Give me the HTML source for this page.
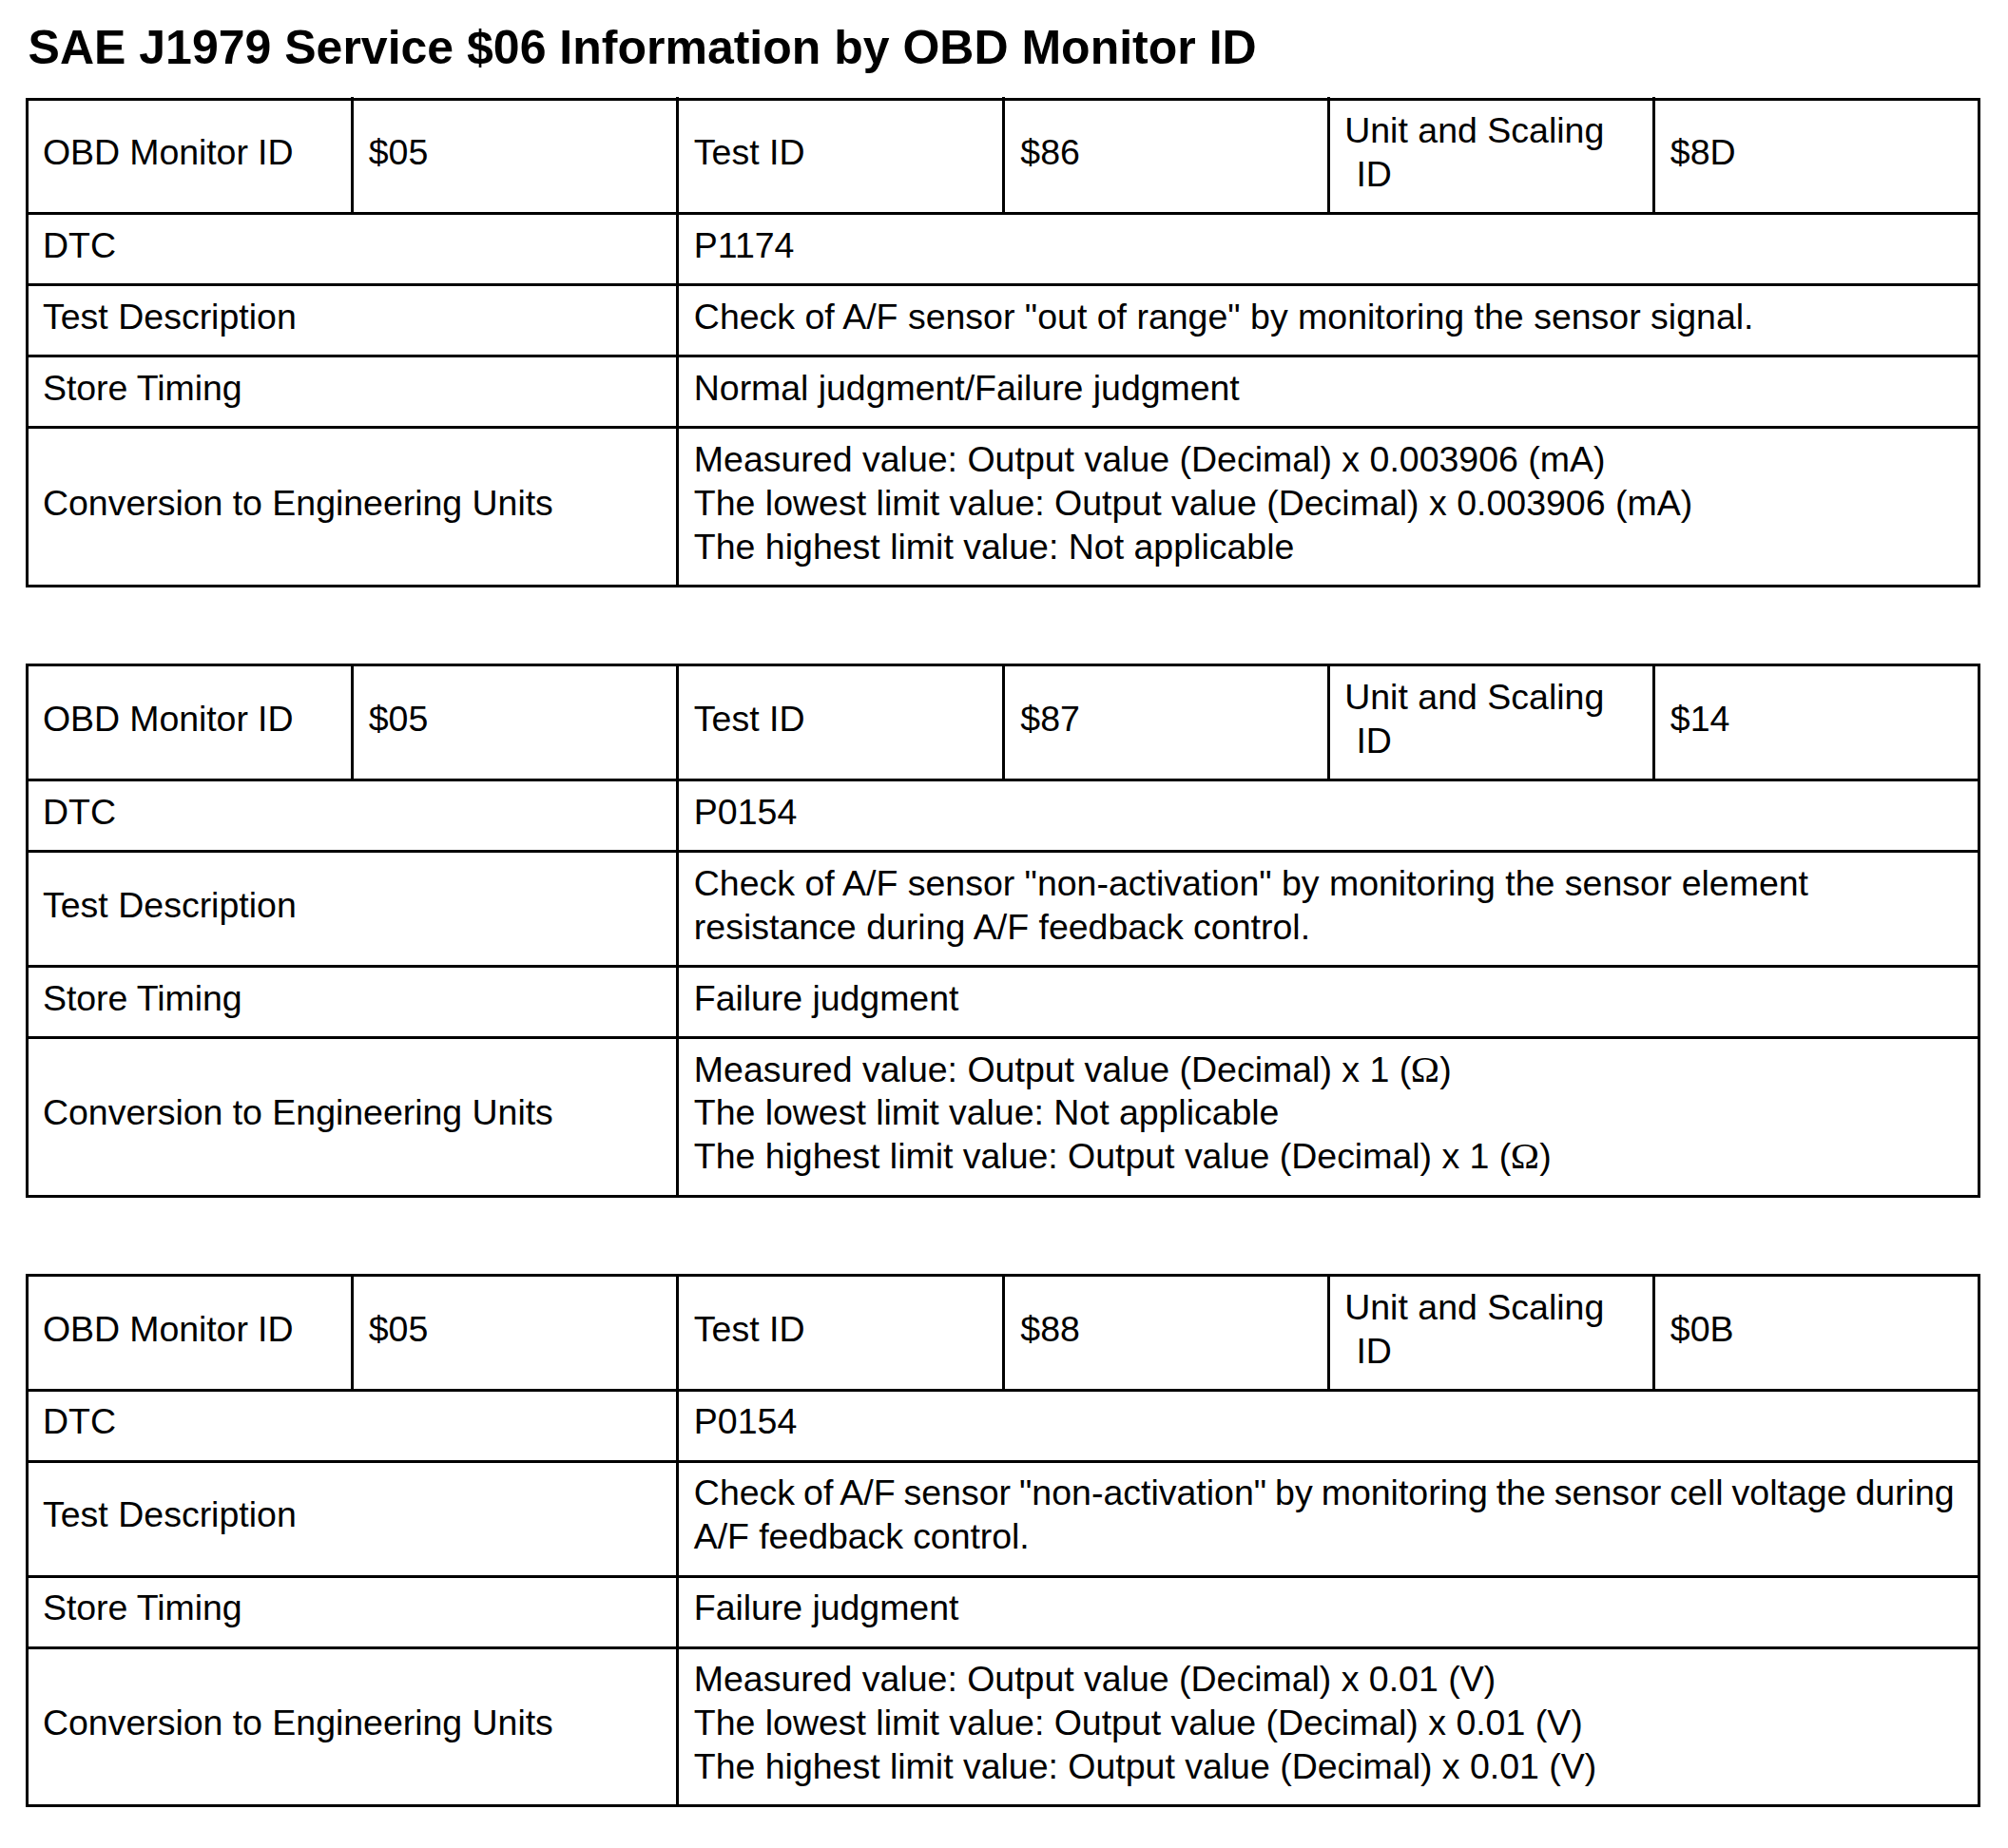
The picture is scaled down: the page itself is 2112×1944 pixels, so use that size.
<!DOCTYPE html>
<html lang="en">
<head>
<meta charset="utf-8">
<title>SAE J1979 Service $06 Information by OBD Monitor ID</title>
<style>
html,body{margin:0;padding:0;background:#fff;}
body{width:2112px;height:1944px;position:relative;overflow:hidden;font-family:"Liberation Sans",Arial,Helvetica,sans-serif;color:#000;}
h1{position:absolute;margin:0;font-weight:bold;white-space:nowrap;line-height:60px;font-size:50px;}
table{position:absolute;left:27px;width:2056px;table-layout:fixed;border-collapse:separate;border-spacing:0;border:0 solid #000;border-width:3px 0 0 3px;font-size:37.5px;line-height:46px;}
td{position:relative;padding:0;border:0 solid #000;border-width:0 3px 3px 0;box-sizing:border-box;vertical-align:top;overflow:visible;}
td span{position:absolute;display:block;height:46px;white-space:pre;}
.om{font-style:normal;font-family:"Liberation Serif","DejaVu Serif",serif;display:inline-block;line-height:0;transform:scaleX(1.085);margin:0 1.1px;}
.tick td::before{content:"";position:absolute;right:-3px;top:-4px;width:3px;height:1px;background:#000;}
.tick td:last-child::before{display:none;}
</style>
</head>
<body>
<h1 style="left:29.6px;top:20px">SAE J1979 Service $06 Information by OBD Monitor ID</h1>
<table style="top:103px">
<colgroup><col style="width:342px"><col style="width:342px"><col style="width:343px"><col style="width:342px"><col style="width:342px"><col style="width:342px"></colgroup>
<tbody>
<tr class="tick">
<td style="height:120px"><span style="left:15px;top:31px;letter-spacing:-0.085px">OBD Monitor ID</span></td>
<td style="height:120px"><span style="left:15.7px;top:31px">$05</span></td>
<td style="height:120px"><span style="left:15.8px;top:31px">Test ID</span></td>
<td style="height:120px"><span style="left:16.3px;top:31px">$86</span></td>
<td style="height:120px"><span style="left:15.2px;top:8px">Unit and Scaling</span><span style="left:17px;top:54px"> ID</span></td>
<td style="height:120px"><span style="left:15.8px;top:31px">$8D</span></td>
</tr>
<tr>
<td colspan="2" style="height:75px"><span style="left:15px;top:9px">DTC</span></td>
<td colspan="4" style="height:75px"><span style="left:15.8px;top:9px">P1174</span></td>
</tr>
<tr>
<td colspan="2" style="height:75px"><span style="left:15px;top:9px">Test Description</span></td>
<td colspan="4" style="height:75px"><span style="left:15.8px;top:9px">Check of A/F sensor &quot;out of range&quot; by monitoring the sensor signal.</span></td>
</tr>
<tr>
<td colspan="2" style="height:75px"><span style="left:15px;top:9px;letter-spacing:-0.09px">Store Timing</span></td>
<td colspan="4" style="height:75px"><span style="left:15.8px;top:9px;letter-spacing:-0.042px">Normal judgment/Failure judgment</span></td>
</tr>
<tr>
<td colspan="2" style="height:167px"><span style="left:15px;top:55px;letter-spacing:-0.033px">Conversion to Engineering Units</span></td>
<td colspan="4" style="height:167px"><span style="left:15.8px;top:9px">Measured value: Output value (Decimal) x 0.003906 (mA)</span><span style="left:15.8px;top:55px">The lowest limit value: Output value (Decimal) x 0.003906 (mA)</span><span style="left:15.8px;top:101px">The highest limit value: Not applicable</span></td>
</tr>
</tbody>
</table>
<table style="top:698px">
<colgroup><col style="width:342px"><col style="width:342px"><col style="width:343px"><col style="width:342px"><col style="width:342px"><col style="width:342px"></colgroup>
<tbody>
<tr>
<td style="height:121px"><span style="left:15px;top:32px;letter-spacing:-0.085px">OBD Monitor ID</span></td>
<td style="height:121px"><span style="left:15.7px;top:32px">$05</span></td>
<td style="height:121px"><span style="left:15.8px;top:32px">Test ID</span></td>
<td style="height:121px"><span style="left:16.3px;top:32px">$87</span></td>
<td style="height:121px"><span style="left:15.2px;top:9px">Unit and Scaling</span><span style="left:17px;top:55px"> ID</span></td>
<td style="height:121px"><span style="left:15.8px;top:32px">$14</span></td>
</tr>
<tr>
<td colspan="2" style="height:75px"><span style="left:15px;top:9px">DTC</span></td>
<td colspan="4" style="height:75px"><span style="left:15.8px;top:9px">P0154</span></td>
</tr>
<tr>
<td colspan="2" style="height:121px"><span style="left:15px;top:32px">Test Description</span></td>
<td colspan="4" style="height:121px"><span style="left:15.8px;top:9px;letter-spacing:-0.012px">Check of A/F sensor &quot;non-activation&quot; by monitoring the sensor element</span><span style="left:15.8px;top:55px">resistance during A/F feedback control.</span></td>
</tr>
<tr>
<td colspan="2" style="height:75px"><span style="left:15px;top:9px;letter-spacing:-0.09px">Store Timing</span></td>
<td colspan="4" style="height:75px"><span style="left:15.8px;top:9px;letter-spacing:-0.047px">Failure judgment</span></td>
</tr>
<tr>
<td colspan="2" style="height:167px"><span style="left:15px;top:54px;letter-spacing:-0.033px">Conversion to Engineering Units</span></td>
<td colspan="4" style="height:167px"><span style="left:15.8px;top:9px">Measured value: Output value (Decimal) x 1 (<i class="om">Ω</i>)</span><span style="left:15.8px;top:54px;letter-spacing:-0.035px">The lowest limit value: Not applicable</span><span style="left:15.8px;top:100px;letter-spacing:-0.026px">The highest limit value: Output value (Decimal) x 1 (<i class="om">Ω</i>)</span></td>
</tr>
</tbody>
</table>
<table style="top:1340px">
<colgroup><col style="width:342px"><col style="width:342px"><col style="width:343px"><col style="width:342px"><col style="width:342px"><col style="width:342px"></colgroup>
<tbody>
<tr>
<td style="height:121px"><span style="left:15px;top:32px;letter-spacing:-0.085px">OBD Monitor ID</span></td>
<td style="height:121px"><span style="left:15.7px;top:32px">$05</span></td>
<td style="height:121px"><span style="left:15.8px;top:32px">Test ID</span></td>
<td style="height:121px"><span style="left:16.3px;top:32px">$88</span></td>
<td style="height:121px"><span style="left:15.2px;top:9px">Unit and Scaling</span><span style="left:17px;top:55px"> ID</span></td>
<td style="height:121px"><span style="left:15.8px;top:32px">$0B</span></td>
</tr>
<tr>
<td colspan="2" style="height:75px"><span style="left:15px;top:8px">DTC</span></td>
<td colspan="4" style="height:75px"><span style="left:15.8px;top:8px">P0154</span></td>
</tr>
<tr>
<td colspan="2" style="height:121px"><span style="left:15px;top:31px">Test Description</span></td>
<td colspan="4" style="height:121px"><span style="left:15.8px;top:8px;word-spacing:-1.46px">Check of A/F sensor &quot;non-activation&quot; by monitoring the sensor cell voltage during</span><span style="left:15.8px;top:54px;letter-spacing:-0.075px">A/F feedback control.</span></td>
</tr>
<tr>
<td colspan="2" style="height:75px"><span style="left:15px;top:8px;letter-spacing:-0.09px">Store Timing</span></td>
<td colspan="4" style="height:75px"><span style="left:15.8px;top:8px;letter-spacing:-0.047px">Failure judgment</span></td>
</tr>
<tr>
<td colspan="2" style="height:166px"><span style="left:15px;top:54px;letter-spacing:-0.033px">Conversion to Engineering Units</span></td>
<td colspan="4" style="height:166px"><span style="left:15.8px;top:8px;letter-spacing:-0.016px">Measured value: Output value (Decimal) x 0.01 (V)</span><span style="left:15.8px;top:54px;letter-spacing:-0.016px">The lowest limit value: Output value (Decimal) x 0.01 (V)</span><span style="left:15.8px;top:100px;letter-spacing:-0.016px">The highest limit value: Output value (Decimal) x 0.01 (V)</span></td>
</tr>
</tbody>
</table>
</body>
</html>
